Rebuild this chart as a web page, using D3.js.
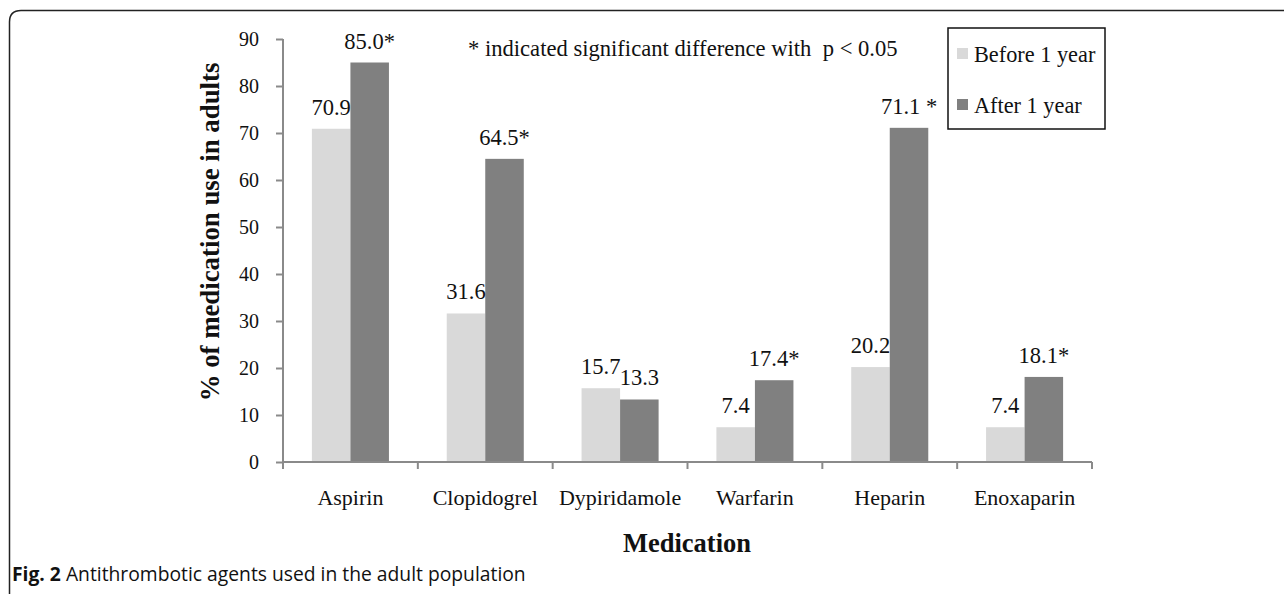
<!DOCTYPE html>
<html lang="en">
<head>
<meta charset="UTF-8">
<title>Antithrombotic agents</title>
<style>
  body { margin: 0; background: #fff; }
  text { font-family: "Liberation Serif", "Times New Roman", serif; fill: #111; }
  .axis path, .axis line { stroke: #8a8a8a; stroke-width: 2px; }
  .axis text { font-size: 20px; }
  .caption { font-family: "Open Sans", "Noto Sans", sans-serif; font-size: 19.3px; }
</style>
</head>
<body>
<svg></svg>
<script src="https://cdnjs.cloudflare.com/ajax/libs/d3/7.8.5/d3.min.js"></script>
<script>

var categories = ["Aspirin", "Clopidogrel", "Dypiridamole", "Warfarin", "Heparin", "Enoxaparin"];
var series = ["Before 1 year", "After 1 year"];
var before = [70.9, 31.6, 15.7, 7.4, 20.2, 7.4];
var after = [85.0, 64.5, 13.3, 17.4, 71.1, 18.1];
var beforeLabels = ["70.9", "31.6", "15.7", "7.4", "20.2", "7.4"];
var afterLabels = ["85.0*", "64.5*", "13.3", "17.4*", "71.1 *", "18.1*"];
var yTicks = [0, 10, 20, 30, 40, 50, 60, 70, 80, 90];
var colors = ["#d9d9d9", "#808080"];

var width = 1284, height = 594;

var svg = d3.select("svg")
  .attr("width", width)
  .attr("height", height);

// frame with rounded top-left corner
svg.append("path")
  .attr("d", "M9.5," + (height + 2) + " L9.5,22 Q9.5,10.5 21,10.5 L" + (width + 2) + ",10.5")
  .attr("fill", "none")
  .attr("stroke", "#222")
  .attr("stroke-width", 1.5);

var x = d3.scaleBand()
  .domain(categories)
  .range([283, 1092]);

var xInner = d3.scaleBand()
  .domain(series)
  .range([0, x.bandwidth()])
  .paddingInner(0)
  .paddingOuter(0.75);

var y = d3.scaleLinear()
  .domain([0, 90])
  .range([462, 39]);

// y axis
svg.append("g")
  .attr("class", "axis")
  .attr("transform", "translate(283,0)")
  .call(d3.axisLeft(y).tickValues(yTicks).tickSize(7).tickPadding(17).tickSizeOuter(0))
  .call(function(g) { g.select(".domain").attr("d", "M0," + y(90) + "V" + (y(0) + 7)); });

// bars
var data = categories.map(function(c, i) {
  return [
    { cat: c, s: series[0], v: before[i], label: beforeLabels[i] },
    { cat: c, s: series[1], v: after[i], label: afterLabels[i] }
  ];
});

var groups = svg.selectAll("g.cat")
  .data(data)
  .enter()
  .append("g")
    .attr("class", "cat")
    .attr("transform", function(d, i) { return "translate(" + x(categories[i]) + ",0)"; });

groups.selectAll("rect")
  .data(function(d) { return d; })
  .enter()
  .append("rect")
    .attr("x", function(d) { return xInner(d.s); })
    .attr("y", function(d) { return y(d.v); })
    .attr("width", xInner.bandwidth())
    .attr("height", function(d) { return y(0) - y(d.v); })
    .attr("fill", function(d, i) { return colors[i]; });

groups.selectAll("text.val")
  .data(function(d) { return d; })
  .enter()
  .append("text")
    .attr("class", "val")
    .attr("x", function(d) { return xInner(d.s) + xInner.bandwidth() / 2; })
    .attr("y", function(d) { return y(d.v) - 14; })
    .attr("text-anchor", "middle")
    .style("font-size", "22.5px")
    .text(function(d) { return d.label; });

// x axis
var xAxis = svg.append("g").attr("class", "axis");
xAxis.append("path")
  .attr("d", "M283," + y(0) + "H1092")
  .attr("fill", "none");
xAxis.selectAll("line")
  .data(categories.map(function(c) { return x(c); }).concat([x.range()[1]]))
  .enter()
  .append("line")
    .attr("x1", function(d) { return d; })
    .attr("x2", function(d) { return d; })
    .attr("y1", y(0))
    .attr("y2", y(0) + 7);
svg.selectAll("text.cat")
  .data(categories)
  .enter()
  .append("text")
    .attr("class", "cat")
    .attr("x", function(d) { return x(d) + x.bandwidth() / 2; })
    .attr("y", 505)
    .attr("text-anchor", "middle")
    .style("font-size", "22px")
    .text(function(d) { return d; });

// axis titles
svg.append("text")
  .attr("transform", "translate(219,232) rotate(-90)")
  .attr("text-anchor", "middle")
  .style("font-size", "26.8px")
  .style("font-weight", "bold")
  .text("% of medication use in adults");

svg.append("text")
  .attr("x", 687)
  .attr("y", 552)
  .attr("text-anchor", "middle")
  .style("font-size", "26.5px")
  .style("font-weight", "bold")
  .text("Medication");

// note
svg.append("text")
  .attr("x", 468)
  .attr("y", 56)
  .style("font-size", "22.6px")
  .style("white-space", "pre")
  .attr("xml:space", "preserve")
  .text("* indicated significant difference with  p < 0.05");

// legend
var legend = svg.append("g").attr("transform", "translate(948,28)");
legend.append("rect")
  .attr("width", 157)
  .attr("height", 101)
  .attr("fill", "#fff")
  .attr("stroke", "#111")
  .attr("stroke-width", 1.5);
var item = legend.selectAll("g.item")
  .data(series)
  .enter()
  .append("g")
    .attr("class", "item")
    .attr("transform", function(d, i) { return "translate(0," + (i * 51) + ")"; });
item.append("rect")
  .attr("x", 9).attr("y", 20)
  .attr("width", 11).attr("height", 11)
  .attr("fill", function(d, i) { return colors[i]; });
item.append("text")
  .attr("x", 26).attr("y", 34)
  .style("font-size", "22.3px")
  .text(function(d) { return d; });

// caption
var cap = svg.append("text")
  .attr("class", "caption")
  .attr("x", 12)
  .attr("y", 581);
cap.append("tspan").style("font-weight", "bold").text("Fig. 2");
cap.append("tspan").text(" Antithrombotic agents used in the adult population");

</script>
</body>
</html>
